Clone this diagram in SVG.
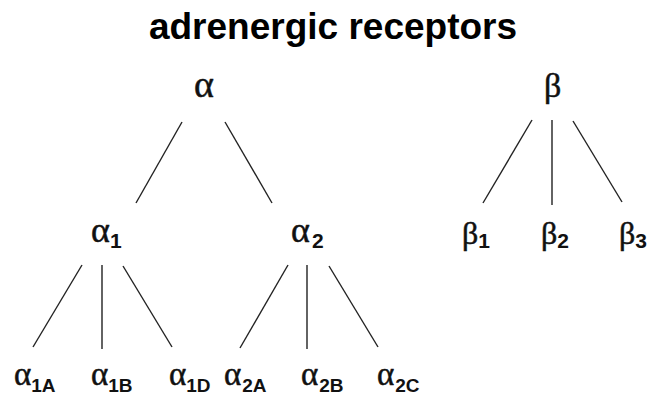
<svg xmlns="http://www.w3.org/2000/svg" width="647" height="396" viewBox="0 0 647 396">
<style>
.t{font-family:"Liberation Sans",Arial,sans-serif;font-weight:bold;font-size:37px;fill:#000}
.g{font-family:"Liberation Serif","Times New Roman",serif;fill:#111;stroke:#111;stroke-width:0.5}
.s{font-family:"Liberation Sans",Arial,sans-serif;font-weight:bold;stroke:none}
.l1{font-size:38px}
.l2{font-size:36px}
.l3{font-size:33px}
.b1{font-size:34px}
.b2{font-size:32px}
.s2{font-size:21px}
.s3{font-size:19px}
line{stroke:#222;stroke-width:1.4}
</style>
<rect width="647" height="396" fill="#fff"/>
<text class="t" x="333" y="39" text-anchor="middle">adrenergic receptors</text>
<g id="connectors">
<line x1="182" y1="122" x2="136" y2="203"/>
<line x1="225" y1="122" x2="272" y2="203"/>
<line x1="82" y1="265" x2="33" y2="347"/>
<line x1="102" y1="265" x2="102" y2="349"/>
<line x1="123" y1="266" x2="172" y2="347"/>
<line x1="288" y1="265" x2="240" y2="348"/>
<line x1="307" y1="265" x2="307" y2="349"/>
<line x1="329" y1="266" x2="378" y2="347"/>
<line x1="532" y1="120" x2="483" y2="203"/>
<line x1="552" y1="120" x2="552" y2="205"/>
<line x1="573" y1="121" x2="622" y2="202"/>
</g>
<g id="alpha"><text class="g l1" x="194" y="97">α</text></g>
<g id="beta"><text class="g b1" x="544" y="97">β</text></g>
<g id="alpha1"><text class="g l2" x="91" y="242">α<tspan class="s s2" dy="6">1</tspan></text></g>
<g id="alpha2"><text class="g l2" x="291" y="242">α<tspan class="s s2" dx="2" dy="6">2</tspan></text></g>
<g id="beta1"><text class="g b2" x="462" y="244">β<tspan class="s s2" dy="4">1</tspan></text></g>
<g id="beta2"><text class="g b2" x="541" y="244">β<tspan class="s s2" dy="4">2</tspan></text></g>
<g id="beta3"><text class="g b2" x="619" y="244">β<tspan class="s s2" dy="4">3</tspan></text></g>
<g id="alpha1A"><text class="g l3" x="14" y="385">α<tspan class="s s3" dy="7">1A</tspan></text></g>
<g id="alpha1B"><text class="g l3" x="91" y="385">α<tspan class="s s3" dy="7">1B</tspan></text></g>
<g id="alpha1D"><text class="g l3" x="169" y="385">α<tspan class="s s3" dy="7">1D</tspan></text></g>
<g id="alpha2A"><text class="g l3" x="224" y="385">α<tspan class="s s3" dx="1" dy="7">2A</tspan></text></g>
<g id="alpha2B"><text class="g l3" x="301" y="385">α<tspan class="s s3" dx="1" dy="7">2B</tspan></text></g>
<g id="alpha2C"><text class="g l3" x="377" y="385">α<tspan class="s s3" dx="1" dy="7">2C</tspan></text></g>
</svg>
